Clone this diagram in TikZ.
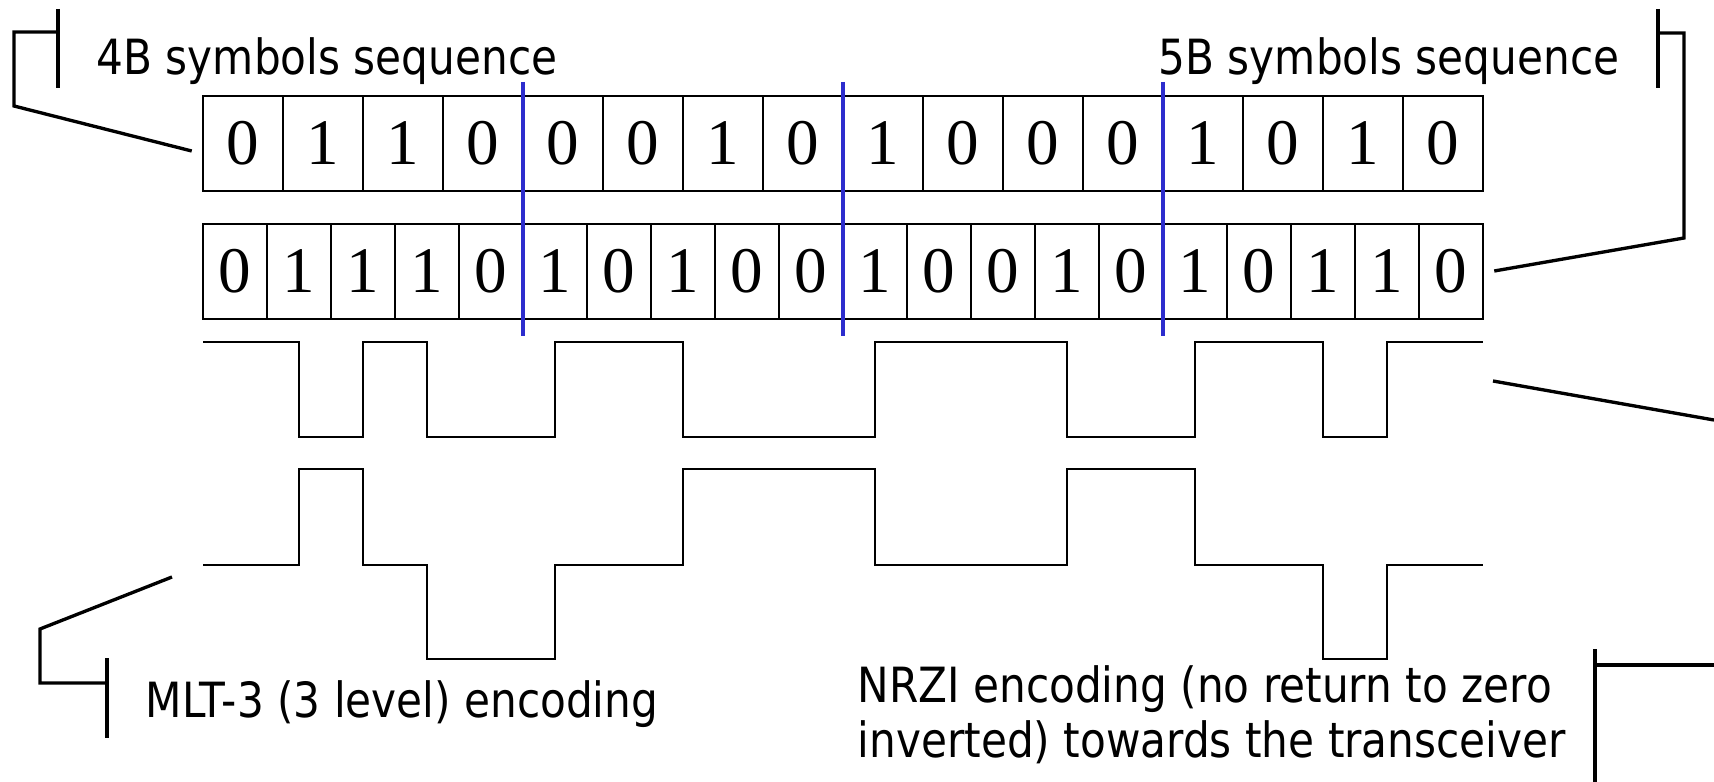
\documentclass[tikz,border=0pt]{standalone}
\usepackage{fontspec}
\newfontfamily\labelfont[FakeStretch=0.87]{DejaVu Sans}
\newfontfamily\digitfont{Liberation Serif}
\usepackage{tikz}
\usetikzlibrary{calc,positioning,backgrounds}
\pgfdeclarelayer{nodelayer}
\pgfdeclarelayer{edgelayer}
\pgfsetlayers{edgelayer,nodelayer,main}
\definecolor{divide}{RGB}{45,45,205}

\begin{document}
\begin{tikzpicture}[x=0.01cm, y=-0.01cm,
    bit/.style={draw, line width=0.7pt, inner sep=0pt, minimum height=0.95cm,
        font=\fontsize{18.5}{20}\digitfont},
    bit4/.style={bit, minimum width=0.8cm},
    bit5/.style={bit, minimum width=0.64cm},
    lbl/.style={inner sep=0pt, align=left, font=\fontsize{13.8}{15.6}\labelfont},
    wave/.style={line width=0.7pt},
    pointer/.style={line width=0.95pt},
    divider/.style={divide, line width=0.95pt}]
    \useasboundingbox (0, 0) rectangle (1714, 782);
    \begin{pgfonlayer}{nodelayer}
            % 4B symbols
            \node [bit4] (b0) at (243, 143.5) {0};
            \node [bit4] (b1) at (323, 143.5) {1};
            \node [bit4] (b2) at (403, 143.5) {1};
            \node [bit4] (b3) at (483, 143.5) {0};
            \node [bit4] (b4) at (563, 143.5) {0};
            \node [bit4] (b5) at (643, 143.5) {0};
            \node [bit4] (b6) at (723, 143.5) {1};
            \node [bit4] (b7) at (803, 143.5) {0};
            \node [bit4] (b8) at (883, 143.5) {1};
            \node [bit4] (b9) at (963, 143.5) {0};
            \node [bit4] (b10) at (1043, 143.5) {0};
            \node [bit4] (b11) at (1123, 143.5) {0};
            \node [bit4] (b12) at (1203, 143.5) {1};
            \node [bit4] (b13) at (1283, 143.5) {0};
            \node [bit4] (b14) at (1363, 143.5) {1};
            \node [bit4] (b15) at (1443, 143.5) {0};
            % 5B symbols
            \node [bit5] (f0) at (235, 271.5) {0};
            \node [bit5] (f1) at (299, 271.5) {1};
            \node [bit5] (f2) at (363, 271.5) {1};
            \node [bit5] (f3) at (427, 271.5) {1};
            \node [bit5] (f4) at (491, 271.5) {0};
            \node [bit5] (f5) at (555, 271.5) {1};
            \node [bit5] (f6) at (619, 271.5) {0};
            \node [bit5] (f7) at (683, 271.5) {1};
            \node [bit5] (f8) at (747, 271.5) {0};
            \node [bit5] (f9) at (811, 271.5) {0};
            \node [bit5] (f10) at (875, 271.5) {1};
            \node [bit5] (f11) at (939, 271.5) {0};
            \node [bit5] (f12) at (1003, 271.5) {0};
            \node [bit5] (f13) at (1067, 271.5) {1};
            \node [bit5] (f14) at (1131, 271.5) {0};
            \node [bit5] (f15) at (1195, 271.5) {1};
            \node [bit5] (f16) at (1259, 271.5) {0};
            \node [bit5] (f17) at (1323, 271.5) {1};
            \node [bit5] (f18) at (1387, 271.5) {1};
            \node [bit5] (f19) at (1451, 271.5) {0};
            % labels
            \node [lbl, anchor=base west] (l4b) at (96, 75) {4B symbols sequence};
            \node [lbl, anchor=base east] (l5b) at (1620, 75) {5B symbols sequence};
            \node [lbl, anchor=base west] (lmlt) at (145, 717) {MLT-3 (3 level) encoding};
            \node [lbl, anchor=base west] (lnrzi) at (857, 757) {NRZI encoding (no return to zero\\inverted) towards the transceiver};
    \end{pgfonlayer}
    \begin{pgfonlayer}{edgelayer}
            % NRZI
            \draw [wave] (203, 342) -| (299, 437) -| (363, 342) -| (427, 437)
                     -| (555, 342) -| (683, 437) -| (875, 342) -| (1067, 437)
                     -| (1195, 342) -| (1323, 437) -| (1387, 342) -- (1483, 342);
            % MLT-3
            \draw [wave] (203, 565) -| (299, 469) -| (363, 565) -| (427, 659)
                     -| (555, 565) -| (683, 469) -| (875, 565) -| (1067, 469)
                     -| (1195, 565) -| (1323, 659) -| (1387, 565) -- (1483, 565);
    \end{pgfonlayer}
        \coordinate (d0) at (523, 82);
        \coordinate (d1) at (843, 82);
        \coordinate (d2) at (1163, 82);
        \draw [divider] (d0) -- (d0 |- 0, 336);
        \draw [divider] (d1) -- (d1 |- 0, 336);
        \draw [divider] (d2) -- (d2 |- 0, 336);

        \coordinate (a0) at (58, 9);
        \coordinate (a1) at (58, 88);
        \coordinate (a2) at (14, 32);
        \coordinate (a3) at (14, 106);
        \coordinate (a4) at ($(b0.west) + (-10, 7.5)$);
      \draw [pointer] (a0) -- (a1);
      \draw [pointer] (a0 |- a2) -- (a2) -- (a3) -- (a4);

        \coordinate (e0) at (1658, 9);
        \coordinate (e1) at (1658, 88);
        \coordinate (e2) at (1684, 33);
        \coordinate (e3) at (1684, 238);
        \coordinate (e4) at ($(f19.east) + (10, -0.5)$);
      \draw [pointer] (e0) -- (e1);
      \draw [pointer] (e0 |- e2) -- (e2) -- (e3) -- (e4);

        \coordinate (m0) at (107, 658);
        \coordinate (m1) at (107, 738);
        \coordinate (m2) at (40, 683);
        \coordinate (m3) at (40, 629);
        \coordinate (m4) at (172, 577);
      \draw [pointer] (m0) -- (m1);
      \draw [pointer] (m0 |- m2) -- (m2) -- (m3) -- (m4);

        \coordinate (n0) at (1595, 649);
        \coordinate (n1) at (1595, 782);
        \coordinate (n2) at (1714, 665);
        \coordinate (n3) at (1493, 381);
        \coordinate (n4) at (1714, 420);
      \draw [pointer] (n0) -- (n1);
      \draw [pointer] (n0 |- n2) -- (n2);
      \draw [pointer] (n3) -- (n4);
\end{tikzpicture}
\end{document}
